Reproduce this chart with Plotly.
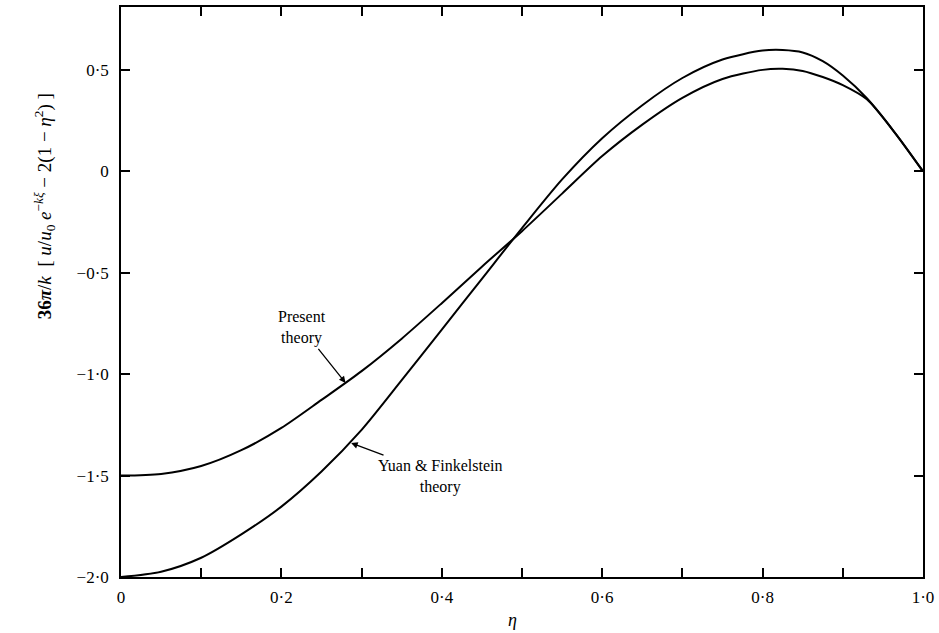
import plotly.graph_objects as go

# eta values and curve values
eta = [0.0, 0.05, 0.10, 0.15, 0.20, 0.25, 0.30, 0.35, 0.40, 0.45, 0.50, 0.55,
       0.60, 0.65, 0.70, 0.75, 0.80, 0.825, 0.85, 0.875, 0.90, 0.93, 0.965, 1.0]

present = [-1.500, -1.492, -1.453, -1.375, -1.265, -1.127, -0.985, -0.825, -0.650,
           -0.470, -0.295, -0.110, 0.075, 0.230, 0.362, 0.455, 0.500, 0.505, 0.495,
           0.465, 0.425, 0.355, 0.190, 0.0]

yuan = [-2.000, -1.974, -1.905, -1.790, -1.653, -1.480, -1.275, -1.030, -0.780,
        -0.530, -0.280, -0.040, 0.163, 0.326, 0.460, 0.551, 0.595, 0.598, 0.586,
        0.543, 0.472, 0.360, 0.190, 0.0]

x_tickvals = [0.0, 0.1, 0.2, 0.3, 0.4, 0.5, 0.6, 0.7, 0.8, 0.9, 1.0]
x_ticktext = ["0", " ", "0·2", " ", "0·4", " ", "0·6", " ", "0·8", " ", "1·0"]
y_tickvals = [-2.0, -1.5, -1.0, -0.5, 0.0, 0.5]
y_ticktext = ["−2·0", "−1·5", "−1·0", "−0·5", "0", "0·5"]

FONT = "Liberation Serif"

fig = go.Figure()
fig.add_trace(go.Scatter(x=eta, y=present, mode="lines",
                         line=dict(color="black", width=2, shape="spline", smoothing=0.8),
                         name="Present theory", showlegend=False))
fig.add_trace(go.Scatter(x=eta, y=yuan, mode="lines",
                         line=dict(color="black", width=2, shape="spline", smoothing=0.8),
                         name="Yuan & Finkelstein theory", showlegend=False))

axis_common = dict(showline=True, linecolor="black", linewidth=1.5, mirror="ticks",
                   ticks="inside", ticklen=9, tickwidth=1.5, tickcolor="black",
                   showgrid=False, zeroline=False,
                   tickfont=dict(family=FONT, size=17, color="black"))

fig.update_xaxes(range=[0, 1.0], tickmode="array", tickvals=x_tickvals,
                 ticktext=x_ticktext, ticklabelstandoff=4, **axis_common)
fig.update_yaxes(range=[-2.0, 0.81], tickmode="array", tickvals=y_tickvals,
                 ticktext=y_ticktext, ticklabelstandoff=7, **axis_common)

annotations = [
    dict(x=0.28, y=-1.043, xref="x", yref="y", text="Present<br>theory",
         showarrow=True, arrowhead=2, arrowsize=1, arrowwidth=1.3, arrowcolor="black",
         ax=-44, ay=-55, font=dict(family=FONT, size=16, color="black"), align="center"),
    dict(x=0.287, y=-1.34, xref="x", yref="y", text="Yuan & Finkelstein<br>theory",
         showarrow=True, arrowhead=2, arrowsize=1, arrowwidth=1.3, arrowcolor="black",
         ax=89, ay=33, font=dict(family=FONT, size=16, color="black"), align="center"),
    dict(x=0.4876, y=-0.076, xref="paper", yref="paper", text="<i>η</i>",
         xanchor="center", yanchor="middle",
         showarrow=False, font=dict(family=FONT, size=18, color="black")),
    dict(x=-0.095, y=0.65, xref="paper", yref="paper", textangle=-90,
         xanchor="center", yanchor="middle",
         text="<b>36<i>π</i></b>/<i>k</i>  [ <i>u</i>/<i>u</i><sub>0</sub> <i>e</i><sup>−<i>kξ</i></sup> − 2(1 − <i>η</i><sup>2</sup>) ]",
         showarrow=False, font=dict(family=FONT, size=19, color="black")),
]

fig.update_layout(width=939, height=633, paper_bgcolor="white", plot_bgcolor="white",
                  margin=dict(l=121, r=14, t=5, b=56), annotations=annotations,
                  font=dict(family=FONT, color="black"))

fig.write_html("out.html", config={"displayModeBar": False},
               post_script="document.body.style.margin='0';document.body.style.overflow='hidden';")
